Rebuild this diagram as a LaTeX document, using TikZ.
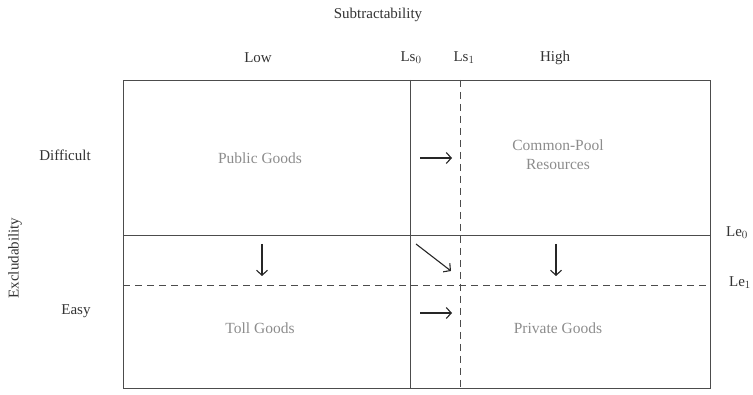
\documentclass[tikz,border=0pt]{standalone}
\usepackage{fontspec}
\setmainfont{Liberation Serif}
\usetikzlibrary{arrows.meta}

\tikzset{
    axis label/.style={font=\fontsize{15}{17}\selectfont, text=black!80},
    good label/.style={font=\fontsize{15.5}{19}\selectfont, text=black!45, align=center},
    shift arrow/.style={-{Straight Barb[length=5pt,width=11pt]}, line width=1.1pt, black!85},
    grid line/.style={line width=0.8pt, black!70},
    grid dash/.style={line width=0.8pt, black!70, dash pattern=on 7pt off 5pt}
    }

\begin{document}
\begin{tikzpicture}[x=1pt,y=-1pt]
    \useasboundingbox (0,0) rectangle (753,395);
    % Outer frame and the two solid boundaries
    \draw[grid line] (123,80) rectangle (710,388);
    \draw[grid line] (410,80) -- (410,388);
    \draw[grid line] (123,235) -- (710,235);
    % The shifted boundaries
    \draw[grid dash] (460,80) -- (460,388);
    \draw[grid dash] (123,285) -- (710,285);
    % Axis titles
    \node(sub)[axis label] at (378,15) {Subtractability};
    \node(exc)[axis label, rotate=90] at (15,258) {Excludability};
    \node(low)[axis label] at (258,58) {Low};
    \node(high)[axis label] at (555,58) {High};
    \node(ls0)[axis label] at (411,58) {Ls$_0$};
    \node(ls1)[axis label] at (464,58) {Ls$_1$};
    \node(diff)[axis label] at (65,155) {Difficult};
    \node(easy)[axis label] at (76,311) {Easy};
    \node(le0)[axis label] at (737,233) {Le$_0$};
    \node(le1)[axis label] at (740,283) {Le$_1$};
    % The four kinds of goods
    \node(pub)[good label] at (260,158) {Public Goods};
    \node(cpr)[good label] at (558,155) {Common-Pool\\Resources};
    \node(toll)[good label] at (260,328) {Toll Goods};
    \node(priv)[good label] at (558,328) {Private Goods};
    % Arrows for the shifts
    \coordinate(a0) at (420,158);
    \coordinate(a1) at (452,158);
    \coordinate(b0) at (420,313);
    \coordinate(b1) at (452,313);
    \coordinate(c0) at (262,244);
    \coordinate(c1) at (262,276);
    \coordinate(d0) at (556,244);
    \coordinate(d1) at (556,276);
    \coordinate(e0) at (416,244);
    \coordinate(e1) at (451,271);
    \draw[shift arrow] (a0) -- (a1);
    \draw[shift arrow] (b0) -- (b1);
    \draw[shift arrow] (c0) -- (c1);
    \draw[shift arrow] (d0) -- (d1);
    \draw[shift arrow] (e0) -- (e1);
\end{tikzpicture}
\end{document}
